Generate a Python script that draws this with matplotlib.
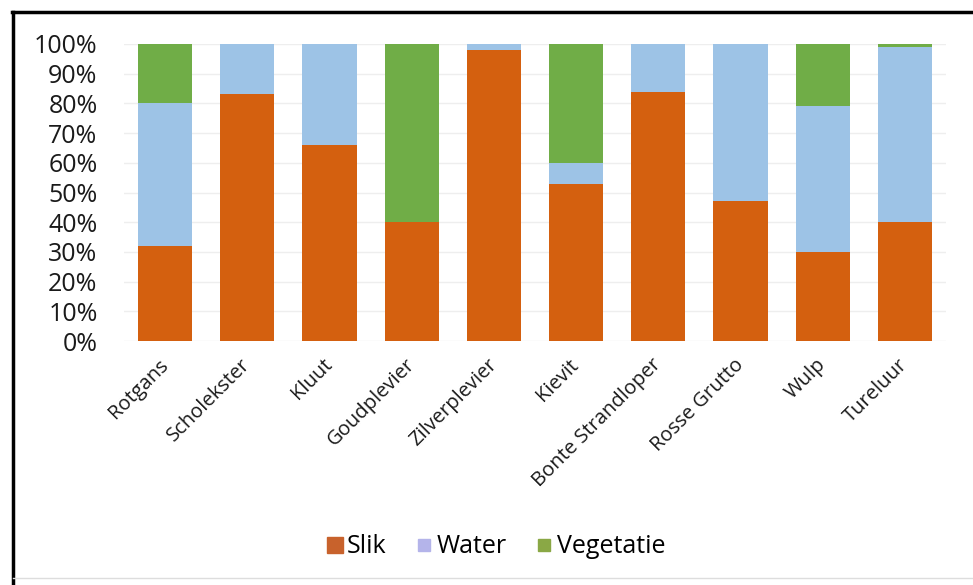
import matplotlib
matplotlib.use("Agg")
import matplotlib.pyplot as plt
from matplotlib.lines import Line2D
import numpy as np

plt.rcParams['font.family'] = ['Open Sans', 'DejaVu Sans']

# Habitat share per species (percent)
species = ["Rotgans", "Scholekster", "Kluut", "Goudplevier", "Zilverplevier",
           "Kievit", "Bonte Strandloper", "Rosse Grutto", "Wulp", "Tureluur"]
slik = [32, 83, 66, 40, 98, 53, 84, 47, 30, 40]
water = [48, 17, 34, 0, 2, 7, 16, 53, 49, 59]
vegetatie = [20, 0, 0, 60, 0, 40, 0, 0, 21, 1]
y_ticks = [0, 10, 20, 30, 40, 50, 60, 70, 80, 90, 100]

series = [("Slik", slik, "#D4600F"),
          ("Water", water, "#9DC3E6"),
          ("Vegetatie", vegetatie, "#70AD47")]
legend_colors = {"Slik": "#C8622C", "Water": "#B4B4EA", "Vegetatie": "#8AA845"}
legend_sizes = {"Slik": 12, "Water": 8.5, "Vegetatie": 8.5}

fig = plt.figure(figsize=(9.73, 5.85), dpi=100)
ax = fig.add_axes([0.1274, 0.417, 0.8449, 0.5078])

x = np.arange(len(species))
bottom = np.zeros(len(species))
for name, vals, col in series:
    v = np.array(vals, dtype=float)
    ax.bar(x, v, bottom=bottom, width=0.66, color=col, edgecolor='none', zorder=2)
    bottom += v

ax.set_xlim(-0.5, len(species) - 0.5)
ax.set_ylim(0, 100)
ax.set_yticks(y_ticks)
ax.set_yticklabels([f"{t}%" for t in y_ticks], fontsize=18, color="#1a1a1a")
ax.tick_params(axis='y', length=0, pad=19)
ax.yaxis.grid(True, color="#eeeeee", linewidth=1, zorder=0)
ax.set_axisbelow(True)

ax.set_xticks(x)
ax.set_xticklabels(species, rotation=45, ha='right', va='center',
                   rotation_mode='anchor', fontsize=14.5, color="#1a1a1a")
ax.tick_params(axis='x', length=0, pad=15)
for s in ax.spines.values():
    s.set_visible(False)

handles = [Line2D([], [], linestyle='none', marker='s', markersize=legend_sizes[n],
                  markerfacecolor=legend_colors[n], markeredgecolor=legend_colors[n])
           for n, _, _ in series]
fig.legend(handles, [n for n, _, _ in series], loc='center',
           bbox_to_anchor=(0.51, 0.065), ncol=3, frameon=False,
           fontsize=18, handlelength=0.6, handletextpad=0.2, columnspacing=1.2)

# frame lines along the top and left edge
fig.add_artist(Line2D([0.0123, 1.0], [0.979, 0.979], color='black', linewidth=2.5,
                      transform=fig.transFigure))
fig.add_artist(Line2D([0.0133, 0.0133], [0.0, 0.979], color='black', linewidth=2.5,
                      transform=fig.transFigure))
fig.add_artist(Line2D([0.0133, 1.0], [0.012, 0.012], color='#dddddd', linewidth=1,
                      transform=fig.transFigure))

fig.savefig("out.png", dpi=100, facecolor='white')
